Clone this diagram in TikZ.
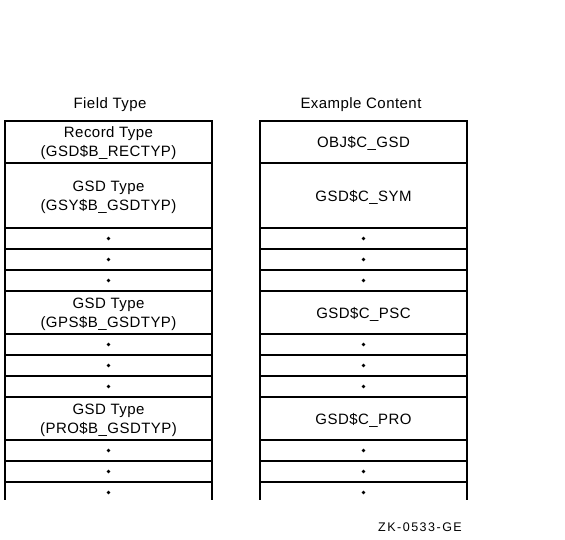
\documentclass[tikz,border=0pt]{standalone}
\usepackage{fontspec}
\setmainfont{Liberation Sans}[LetterSpace=3]
\begin{document}
\begin{tikzpicture}[x=1pt,y=-1pt,
  cell/.style={draw, line width=1.8pt, minimum width=207pt, inner sep=0pt, outer sep=0pt,
    align=center, anchor=north, text depth=0pt, font=\fontsize{15}{19}\selectfont},
  opencell/.style={cell, draw=none},
  head/.style={font=\fontsize{15}{16}\selectfont, inner sep=0pt},
  dotmark/.style={fill=black},
  side/.style={line width=1.8pt}]
\useasboundingbox (0,0) rectangle (565,540);
% headings
\node[head] (hl) at (110,104.5) {Field Type};
\node[head] (hr) at (361,104.5) {Example Content};
% left column
\node[cell, minimum height=42pt] (L1) at (108.5,121) {Record Type\\(GSD\$B\_RECTYP)};
\node[cell, minimum height=65pt] (L2) at (108.5,163) {GSD Type\\(GSY\$B\_GSDTYP)};
\node[cell, minimum height=21pt] (L3) at (108.5,228) {};
\node[cell, minimum height=21pt] (L4) at (108.5,249) {};
\node[cell, minimum height=21pt] (L5) at (108.5,270) {};
\node[cell, minimum height=43pt] (L6) at (108.5,291) {GSD Type\\(GPS\$B\_GSDTYP)};
\node[cell, minimum height=21pt] (L7) at (108.5,334) {};
\node[cell, minimum height=21pt] (L8) at (108.5,355) {};
\node[cell, minimum height=21pt] (L9) at (108.5,376) {};
\node[cell, minimum height=43pt] (L10) at (108.5,397) {GSD Type\\(PRO\$B\_GSDTYP)};
\node[cell, minimum height=21pt] (L11) at (108.5,440) {};
\node[cell, minimum height=21pt] (L12) at (108.5,461) {};
\node[opencell, minimum height=18pt] (L13) at (108.5,482) {};
% right column
\node[cell, minimum height=42pt] (R1) at (363.5,121) {OBJ\$C\_GSD};
\node[cell, minimum height=65pt] (R2) at (363.5,163) {GSD\$C\_SYM};
\node[cell, minimum height=21pt] (R3) at (363.5,228) {};
\node[cell, minimum height=21pt] (R4) at (363.5,249) {};
\node[cell, minimum height=21pt] (R5) at (363.5,270) {};
\node[cell, minimum height=43pt] (R6) at (363.5,291) {GSD\$C\_PSC};
\node[cell, minimum height=21pt] (R7) at (363.5,334) {};
\node[cell, minimum height=21pt] (R8) at (363.5,355) {};
\node[cell, minimum height=21pt] (R9) at (363.5,376) {};
\node[cell, minimum height=43pt] (R10) at (363.5,397) {GSD\$C\_PRO};
\node[cell, minimum height=21pt] (R11) at (363.5,440) {};
\node[cell, minimum height=21pt] (R12) at (363.5,461) {};
\node[opencell, minimum height=18pt] (R13) at (363.5,482) {};
% open bottom rows
\draw[side] (L13.north west) -- (L13.south west) (L13.north east) -- (L13.south east);
\draw[side] (R13.north west) -- (R13.south west) (R13.north east) -- (R13.south east);
% dots
\foreach \c in {L3,L4,L5,L7,L8,L9,L11,L12,R3,R4,R5,R7,R8,R9,R11,R12}
  \fill[dotmark] (\c.center) circle (1.8pt);
\fill[dotmark] ([yshift=-1.5pt]L13.center) circle (1.8pt);
\fill[dotmark] ([yshift=-1.5pt]R13.center) circle (1.8pt);
% figure id
\node[font=\fontsize{12.5}{14}\selectfont\addfontfeatures{LetterSpace=12}, inner sep=0pt] (zk) at (420,527) {ZK-0533-GE};
\end{tikzpicture}
\end{document}
